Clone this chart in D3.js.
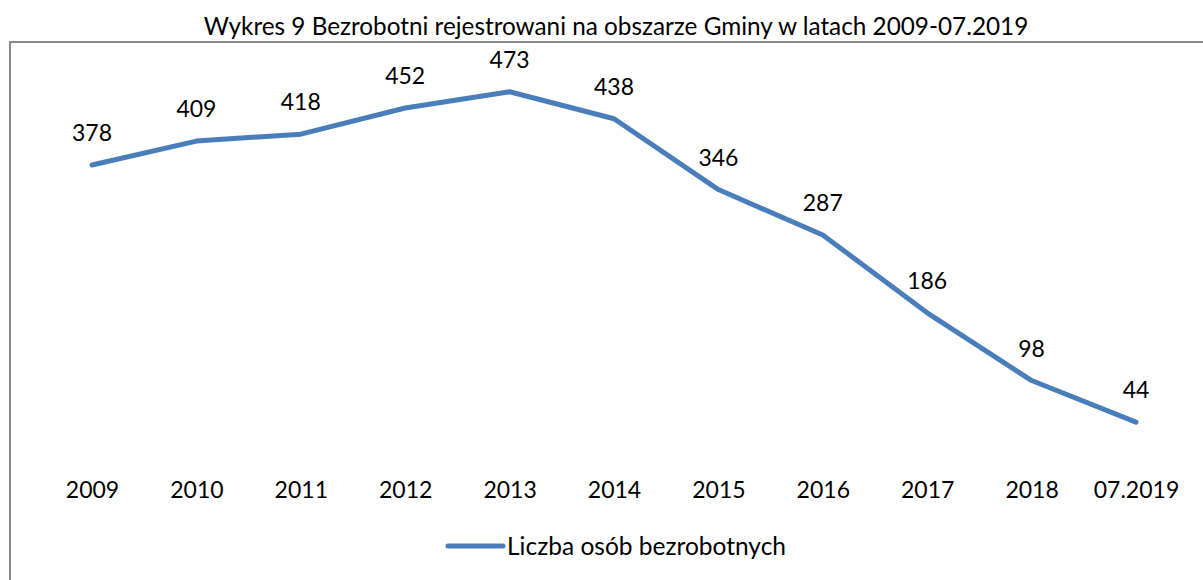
<!DOCTYPE html>
<html><head><meta charset="utf-8">
<script src="https://cdn.jsdelivr.net/npm/d3@7"></script>
<style>body{margin:0;background:#fff}svg{display:block}text{font-family:Lato,"Open Sans",sans-serif;fill:#000}</style>
</head><body>
<svg id="c" width="1203" height="580"></svg>
<script>
const title = "Wykres 9 Bezrobotni rejestrowani na obszarze Gminy w latach 2009-07.2019";
const categories = ["2009","2010","2011","2012","2013","2014","2015","2016","2017","2018","07.2019"];
const values = [378,409,418,452,473,438,346,287,186,98,44];
const seriesName = "Liczba osób bezrobotnych";
const yDomain = [0, 500];

const svg = d3.select("#c");
const color = "#4a7ebb";
svg.append("rect").attr("x",10).attr("y",42).attr("width",1210).attr("height",560)
  .attr("fill","none").attr("stroke","#898989").attr("stroke-width",2);

svg.append("text").attr("x",616).attr("y",35).attr("text-anchor","middle")
  .style("font-size","24.3px").text(title);

const x = d3.scalePoint().domain(categories).range([92,1136]);
const y = d3.scaleLinear().domain(yDomain).range([456,71]);

const xAxis = svg.append("g").attr("transform","translate(0,456)")
  .call(d3.axisBottom(x).tickSize(0).tickPadding(0));
xAxis.select(".domain").remove();
xAxis.selectAll("text").attr("dy",null).attr("y",42)
  .style("font-size","23px").style("font-family","Lato,'Open Sans',sans-serif").attr("fill","#000");

const data = categories.map((c,i)=>({c, v: values[i]}));
svg.append("path").datum(data)
  .attr("fill","none").attr("stroke",color).attr("stroke-width",5)
  .attr("stroke-linecap","round").attr("stroke-linejoin","round")
  .attr("d", d3.line().x(d=>x(d.c)).y(d=>y(d.v)));

svg.selectAll(".lbl").data(data).join("text").attr("class","lbl")
  .attr("x",d=>x(d.c)).attr("y",d=>y(d.v)-24).attr("text-anchor","middle")
  .style("font-size","23px").text(d=>d.v);

svg.append("line").attr("x1",448).attr("x2",503).attr("y1",546).attr("y2",546)
  .attr("stroke",color).attr("stroke-width",5).attr("stroke-linecap","round");
svg.append("text").attr("x",507).attr("y",555).style("font-size","24.5px").text(seriesName);
</script>
</body></html>
